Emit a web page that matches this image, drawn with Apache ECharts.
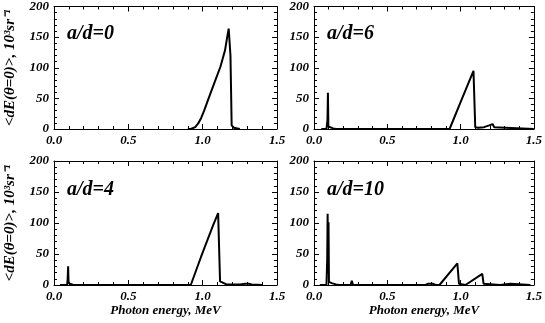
<!DOCTYPE html>
<html>
<head>
<meta charset="utf-8">
<script src="https://cdn.jsdelivr.net/npm/echarts@6/dist/echarts.min.js"></script>
<style>
  html, body { margin: 0; padding: 0; background: #fff; }
  #chart { width: 545px; height: 323px; }
</style>
</head>
<body>
<div id="chart"></div>
<script>
// 面板标签
var panelLabels = ['a/d=0', 'a/d=6', 'a/d=4', 'a/d=10']
var xTicks = [0, 0.5, 1.0, 1.5]
var yTicks = [0, 50, 100, 150, 200]

// a/d=0
var energyAd0 = [0.90, 0.92, 0.95, 0.97, 0.99, 1.01, 1.04, 1.08, 1.12, 1.15, 1.165, 1.175, 1.183, 1.187, 1.195, 1.21, 1.25]
var valueAd0 = [0, 0, 3, 9, 18, 30, 50, 76, 102, 128, 150, 164, 165, 120, 6, 2, 0]

// a/d=6
var energyAd6 = [0.05, 0.085, 0.092, 0.095, 0.098, 0.11, 0.13, 0.15, 0.925, 1.0, 1.088, 1.10, 1.12, 1.16, 1.195, 1.218, 1.23, 1.24, 1.50]
var valueAd6 = [0, 0, 15, 59, 4, 2, 1, 0, 0, 44, 95, 3, 2, 3, 6, 8, 3, 0, 0]

// a/d=4
var energyAd4 = [0.04, 0.088, 0.092, 0.095, 0.098, 0.11, 0.13, 0.92, 0.99, 1.07, 1.104, 1.117, 1.13, 1.16, 1.25, 1.29, 1.31, 1.33, 1.40]
var valueAd4 = [0, 0, 10, 30, 3, 1, 0, 0, 46, 96, 116, 6, 3, 1, 1, 2, 2, 1, 0]

// a/d=10
var energyAd10 = [0.04, 0.085, 0.09, 0.093, 0.096, 0.099, 0.102, 0.12, 0.15, 0.17, 0.25, 0.258, 0.266, 0.76, 0.78, 0.81, 0.83, 0.856, 0.978, 0.989, 1.033, 1.148, 1.157, 1.17, 1.27, 1.28, 1.34, 1.35, 1.476]
var valueAd10 = [0, 0, 40, 115, 20, 101, 5, 3, 1, 0, 0, 7, 0, 0, 2, 2, 0, 0, 35, 2, 0, 18, 2, 0, 0, 2, 2, 0, 0]

var energies = [energyAd0, energyAd6, energyAd4, energyAd10]
var values = [valueAd0, valueAd6, valueAd4, valueAd10]

var font = 'Liberation Serif'
var grids = [
    { left: 54, top: 5, width: 223, height: 124 },
    { left: 314, top: 5, width: 223, height: 124 },
    { left: 54, top: 161, width: 223, height: 124 },
    { left: 314, top: 161, width: 223, height: 124 }
]

function zip(xs, ys) {
    return xs.map(function (x, i) { return [x, ys[i]] })
}

var axisLine = { show: true, onZero: false, lineStyle: { color: '#000', width: 1 } }
var tick = { show: true, inside: true, length: 5, lineStyle: { color: '#000' } }
var minor = { show: true, splitNumber: 5, length: 3, lineStyle: { color: '#000' } }
var tickFont = { color: '#000', fontFamily: font, fontStyle: 'italic', fontWeight: 'bold', fontSize: 13 }

var xAxis = []
var yAxis = []
var series = []
var titles = []

grids.forEach(function (g, i) {
    var bottomRow = i >= 2
    var leftCol = i % 2 === 0
    xAxis.push({
        type: 'value', gridIndex: i, min: xTicks[0], max: xTicks[xTicks.length - 1], interval: 0.5,
        position: 'bottom',
        axisLine: axisLine, axisTick: tick, minorTick: minor, splitLine: { show: false },
        axisLabel: Object.assign({ margin: 5, formatter: function (v) { return v.toFixed(1) } }, tickFont),
        name: bottomRow ? 'Photon energy, MeV' : '',
        nameLocation: 'middle', nameGap: 18,
        nameTextStyle: { color: '#000', fontFamily: font, fontStyle: 'italic', fontWeight: 'bold', fontSize: 13 }
    })
    xAxis.push({
        type: 'value', gridIndex: i, min: xTicks[0], max: xTicks[xTicks.length - 1], interval: 0.5,
        position: 'top',
        axisLine: axisLine, axisTick: tick, minorTick: minor, splitLine: { show: false },
        axisLabel: { show: false }
    })
    yAxis.push({
        type: 'value', gridIndex: i, min: yTicks[0], max: yTicks[yTicks.length - 1], interval: 50,
        position: 'left',
        axisLine: axisLine, axisTick: tick, minorTick: minor, splitLine: { show: false },
        axisLabel: Object.assign({ margin: 5 }, tickFont),
        name: leftCol ? '<dE(θ=0)>, 10³sr⁻¹' : '',
        nameLocation: 'middle', nameGap: 36,
        nameTextStyle: { color: '#000', fontFamily: font, fontStyle: 'italic', fontWeight: 'bold', fontSize: 15 }
    })
    yAxis.push({
        type: 'value', gridIndex: i, min: yTicks[0], max: yTicks[yTicks.length - 1], interval: 50,
        position: 'right',
        axisLine: axisLine, axisTick: tick, minorTick: minor, splitLine: { show: false },
        axisLabel: { show: false }
    })
    series.push({
        type: 'line', xAxisIndex: i * 2, yAxisIndex: i * 2,
        data: zip(energies[i], values[i]),
        showSymbol: false, symbol: 'none',
        lineStyle: { color: '#000', width: 2 },
        animation: false
    })
    titles.push({
        text: panelLabels[i],
        left: g.left + 13, top: g.top + 19, padding: 0,
        textStyle: { color: '#000', fontFamily: font, fontStyle: 'italic', fontWeight: 'bold', fontSize: 20 }
    })
})

var chart = echarts.init(document.getElementById('chart'))
chart.setOption({
    animation: false,
    backgroundColor: '#fff',
    title: titles,
    grid: grids,
    xAxis: xAxis,
    yAxis: yAxis,
    series: series
})
</script>
</body>
</html>
